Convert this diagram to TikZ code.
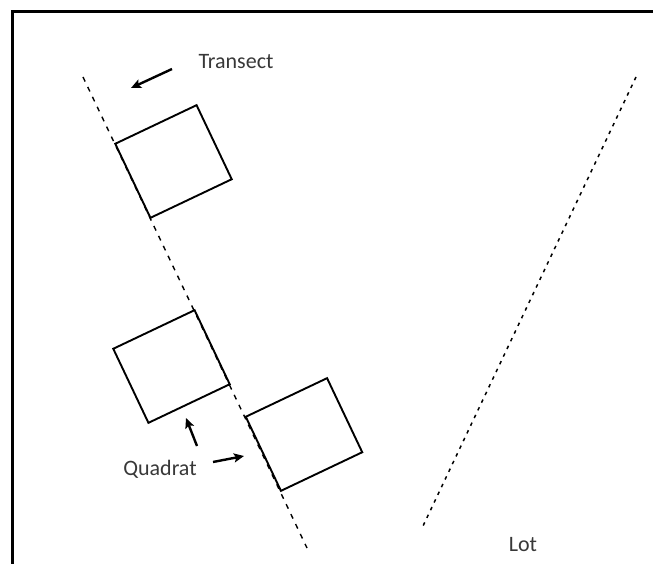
\documentclass[tikz,border=0pt]{standalone}
\usepackage{fontspec}
\setmainfont{Carlito}
\usetikzlibrary{arrows.meta}
\begin{document}
\begin{tikzpicture}[x=1pt,y=-1pt,
    quadrat/.style={draw,line width=1.9pt,minimum width=90pt,minimum height=82pt,rotate=25.4,inner sep=0pt},
    transect/.style={line width=1.4pt,dash pattern=on 5pt off 6pt},
    lotline/.style={line width=1.5pt,dash pattern=on 3.5pt off 5pt},
    pointer/.style={line width=2.4pt,-{Stealth[length=10pt,width=9pt,inset=2pt]}},
    lbl/.style={text=black!78,font=\fontsize{22}{26}\selectfont,inner sep=0pt}]
        \useasboundingbox (0,0) rectangle (653,564);
        % frame
        \draw[line width=3pt] (12,564) -- (12,12) -- (653,12);
        % transect and lot boundary
        \coordinate (ttop) at (83,77);
        \coordinate (tbot) at (307,548);
        \coordinate (ltop) at (636,77);
        \coordinate (lbot) at (423,526);
        \draw[transect] (ttop) -- (tbot);
        \draw[lotline] (ltop) -- (lbot);
        % quadrats
        \node[quadrat] (q1) at (173.5,161.5) {};
        \node[quadrat] (q2) at (171.5,366.5) {};
        \node[quadrat] (q3) at (304,434.5) {};
        % labels
        \node[lbl] (transectlbl) at (236,62) {Transect};
        \node[lbl] (quadratlbl) at (160,469) {Quadrat};
        \node[lbl] (lotlbl) at (523,545) {Lot};
        % arrows
        \coordinate (ta1) at (172,69);
        \coordinate (ta2) at (131,88);
        \coordinate (qa1) at (197,446);
        \coordinate (qa2) at (186,418);
        \coordinate (qb1) at (213,462);
        \coordinate (qb2) at (244,456);
        \draw[pointer] (ta1) -- (ta2);
        \draw[pointer] (qa1) -- (qa2);
        \draw[pointer] (qb1) -- (qb2);
    \end{tikzpicture}
\end{document}
